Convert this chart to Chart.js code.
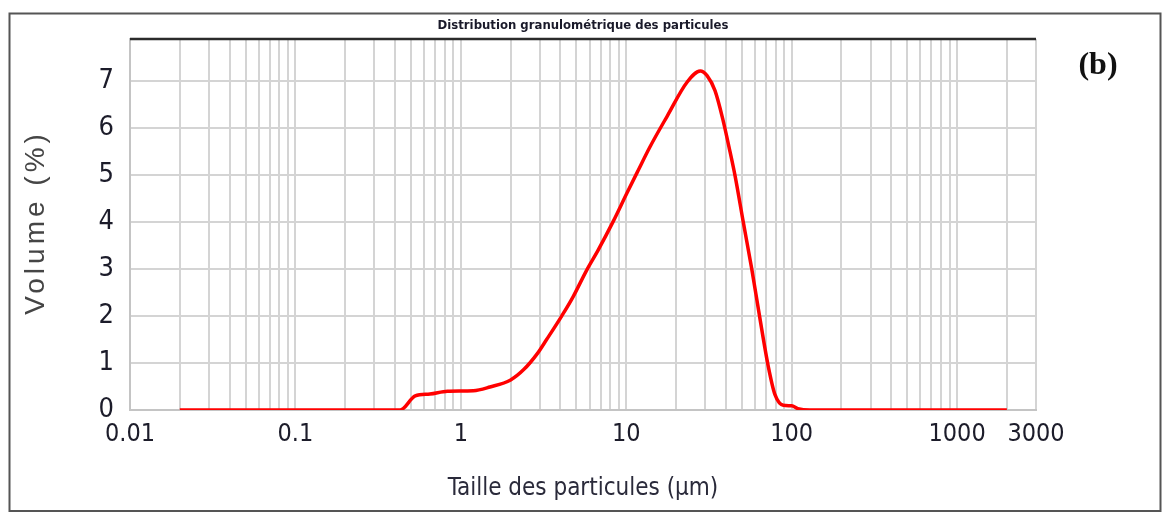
<!DOCTYPE html>
<html>
<head>
<meta charset="utf-8">
<script src="https://cdn.jsdelivr.net/npm/chart.js@4.4.0/dist/chart.umd.min.js"></script>
<style>
  html, body { margin: 0; padding: 0; background: #fff; }
  #wrap { width: 1163px; height: 513px; }
</style>
</head>
<body>
<div id="wrap"><canvas id="chart" width="1163" height="513"></canvas></div>
<script>
// particle size (µm) and volume (%)
const sizes = [0.02, 0.43, 0.53, 0.65, 0.83, 1.19, 1.5, 2.0, 2.4, 2.9, 3.3, 4.07, 4.77, 5.77, 6.75, 8.3, 10.1, 11.8, 13.9, 17.7, 23.3, 28.0, 30.8, 34.4, 38.3, 42.4, 45.4, 51, 57.4, 63.8, 72.3, 79.4, 89, 100, 109, 129, 2000];
const volumes = [0, 0, 0.3, 0.34, 0.4, 0.41, 0.49, 0.64, 0.86, 1.2, 1.5, 2.0, 2.41, 2.98, 3.4, 4.0, 4.62, 5.1, 5.6, 6.26, 6.98, 7.22, 7.12, 6.8, 6.2, 5.5, 5.0, 4.0, 3.0, 2.02, 0.92, 0.32, 0.1, 0.09, 0.03, 0, 0];

const xTickLabels = [0.01, 0.1, 1, 10, 100, 1000, 3000];
const yTickValues = [0, 1, 2, 3, 4, 5, 6, 7];

const chartTitle = 'Distribution granulométrique des particules';
const xTitle = 'Taille des particules (µm)';
const yTitle = 'Volume (%)';
const panelLabel = '(b)';

// vertical grid at 1..9 x 10^n up to 3000
const xGridValues = [];
for (let e = -2; e <= 3; e++) {
  for (let m = 1; m <= 9; m++) {
    const v = Number((m * Math.pow(10, e)).toPrecision(3));
    if (v <= 3000) xGridValues.push(v);
  }
}

const narrow = "'Liberation Sans Narrow', 'Arial Narrow', 'DejaVu Sans Condensed', sans-serif";
const gridColor = '#d4d4d4';
const labelColor = '#1c1c2a';

const framePlugin = {
  id: 'frame',
  afterDraw(chart) {
    const { ctx, chartArea: a } = chart;
    ctx.save();
    // outer box
    ctx.strokeStyle = '#555';
    ctx.lineWidth = 2;
    ctx.strokeRect(9.5, 13.5, 1151, 497.5);
    // dark top edge of the plot
    ctx.strokeStyle = '#2b2b2b';
    ctx.lineWidth = 2.5;
    ctx.beginPath();
    ctx.moveTo(a.left, a.top);
    ctx.lineTo(a.right, a.top);
    ctx.stroke();
    // y title, spaced out
    ctx.translate(36, (a.top + a.bottom) / 2);
    ctx.rotate(-Math.PI / 2);
    ctx.font = "28px 'Liberation Sans', Arial, sans-serif";
    ctx.letterSpacing = '4px';
    ctx.fillStyle = '#454545';
    ctx.textAlign = 'center';
    ctx.textBaseline = 'middle';
    ctx.fillText(yTitle, 2, 0);
    ctx.restore();

    ctx.save();
    ctx.font = "bold 32px 'Liberation Serif', 'Times New Roman', serif";
    ctx.fillStyle = '#111';
    ctx.textAlign = 'center';
    ctx.textBaseline = 'middle';
    ctx.fillText(panelLabel, 1098, 66);
    ctx.restore();
  }
};

new Chart(document.getElementById('chart'), {
  type: 'line',
  data: {
    datasets: [{
      data: sizes.map((s, i) => ({ x: s, y: volumes[i] })),
      borderColor: '#ff0000',
      borderWidth: 3.5,
      pointRadius: 0,
      fill: false,
      cubicInterpolationMode: 'monotone'
    }]
  },
  options: {
    responsive: false,
    devicePixelRatio: 1,
    animation: false,
    layout: { padding: { top: 13, right: 127, bottom: 0, left: 0 } },
    plugins: {
      legend: { display: false },
      tooltip: { enabled: false },
      title: {
        display: true,
        text: chartTitle,
        fullSize: false,
        color: '#1a1a2a',
        font: { family: narrow, size: 13, weight: 'bold' },
        padding: { top: 5, bottom: 5.4 }
      }
    },
    scales: {
      x: {
        type: 'logarithmic',
        min: 0.01,
        max: 3000,
        afterBuildTicks: s => { s.ticks = xGridValues.map(v => ({ value: v })); },
        afterFit: s => { s.height = 103; },
        grid: { color: gridColor, lineWidth: 2, drawTicks: false },
        border: { color: '#c4c4c4', width: 2 },
        ticks: {
          autoSkip: false,
          maxRotation: 0,
          padding: 9,
          color: labelColor,
          font: { family: narrow, size: 25 },
          callback: v => xTickLabels.includes(v) ? String(v) : ''
        },
        title: {
          display: true,
          text: xTitle,
          color: '#2a2a3a',
          font: { family: narrow, size: 24 },
          padding: { top: 0, bottom: 9.6 }
        }
      },
      y: {
        min: 0,
        max: 7.9,
        afterBuildTicks: s => { s.ticks = yTickValues.map(v => ({ value: v })); },
        afterFit: s => { s.width = 130; },
        grid: { color: gridColor, lineWidth: 2, drawTicks: false },
        border: { color: '#c4c4c4', width: 2 },
        ticks: {
          padding: 16,
          color: labelColor,
          font: { family: narrow, size: 27 },
          callback: v => String(v)
        }
      }
    }
  },
  plugins: [framePlugin]
});
</script>
</body>
</html>
